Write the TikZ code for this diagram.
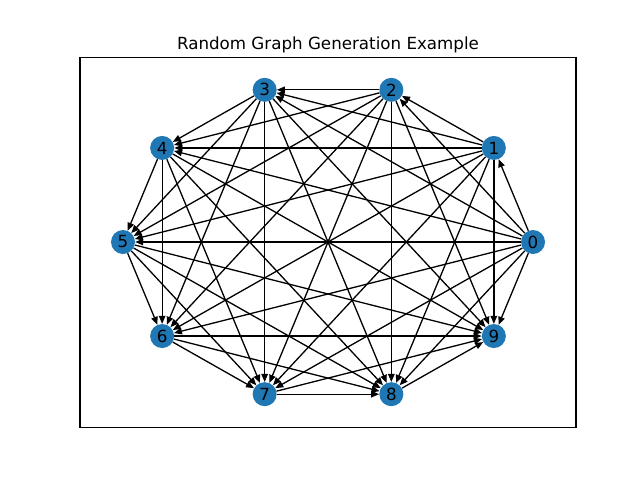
\documentclass[tikz,border=0pt]{standalone}
\usepackage{fontspec}
\setmainfont{DejaVu Sans}
\usetikzlibrary{arrows.meta,backgrounds}
\definecolor{tabblue}{HTML}{1F77B4}
\begin{document}
\begin{tikzpicture}[x=1pt,y=-1pt,
  vtx/.style={circle,fill=tabblue,minimum size=24pt,inner sep=0pt,font=\fontsize{16.7}{20}\selectfont},
  arr/.style={-{Triangle[length=8pt,width=6.5pt]},line width=1.3pt},
  frame/.style={line width=1.1pt}]
\useasboundingbox (0,0) rectangle (640,480);
\node[anchor=base,font=\fontsize{16.7}{20}\selectfont] (title) at (328,49.3) {Random Graph Generation Example};
\draw[frame] (80,57.6) rectangle (576,427.2);
\foreach \i in {0,...,9}
  \node[vtx] (n\i) at ({328+205*cos(36*\i)},{242-160*sin(36*\i)}) {\i};
\begin{scope}[on background layer]
\foreach \i in {0,...,8}{
  \pgfmathtruncatemacro\s{\i+1}
  \foreach \j in {\s,...,9}
    \draw[arr] (n\i) -- (n\j);
}
\end{scope}
\end{tikzpicture}
\end{document}
